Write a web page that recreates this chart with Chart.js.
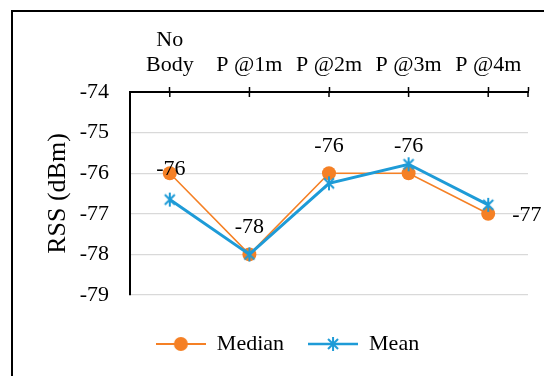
<!DOCTYPE html>
<html>
<head>
<meta charset="utf-8">
<script src="https://cdn.jsdelivr.net/npm/chart.js@4.4.1/dist/chart.umd.min.js"></script>
<style>
  html, body { margin: 0; padding: 0; background: #fff; overflow: hidden; width: 544px; height: 376px; }
  #frame { position: absolute; left: 11px; top: 10px; width: 700px; height: 500px; border: 2px solid #000; box-sizing: border-box; }
  #c { position: absolute; left: 0; top: 0; }
</style>
</head>
<body>
<div id="frame"></div>
<canvas id="c" width="544" height="376"></canvas>
<script>
// ---- data ----
const categoryLabels = [['No', 'Body'], 'P @1m', 'P @2m', 'P @3m', 'P @4m'];
const seriesNames = ['Median', 'Mean'];
const medianValues = [-76, -78, -76, -76, -77];
const meanValues = [-76.65, -78, -76.25, -75.78, -76.78];
const yTickValues = [-79, -78, -77, -76, -75, -74];
const medianLabelPlacement = ['center', 'above', 'above', 'above', 'right'];

// ---- style ----
const FONT = "'Liberation Serif', 'Times New Roman', serif";
const ORANGE = '#F58025';
const BLUE = '#1E9BD7';

function drawAsterisk(g, cx, cy, color) {
  g.strokeStyle = color;
  g.lineWidth = 2;
  g.beginPath();
  g.moveTo(cx, cy - 7); g.lineTo(cx, cy + 7);
  g.moveTo(cx - 5, cy - 5); g.lineTo(cx + 5, cy + 5);
  g.moveTo(cx + 5, cy - 5); g.lineTo(cx - 5, cy + 5);
  g.stroke();
}
function makeStar(color) {
  const c = document.createElement('canvas');
  c.width = 16; c.height = 16;
  drawAsterisk(c.getContext('2d'), 8, 8, color);
  return c;
}
function makeLegendIcon(kind) {
  const c = document.createElement('canvas');
  c.width = 50; c.height = 18;
  const g = c.getContext('2d');
  g.strokeStyle = kind === 'circle' ? ORANGE : BLUE;
  g.lineWidth = kind === 'circle' ? 2 : 2.5;
  g.beginPath(); g.moveTo(0, 9); g.lineTo(50, 9); g.stroke();
  if (kind === 'circle') {
    g.fillStyle = ORANGE;
    g.beginPath(); g.arc(25, 9, 7, 0, Math.PI * 2); g.fill();
  } else {
    drawAsterisk(g, 25, 9, BLUE);
  }
  return c;
}
const starImg = makeStar(BLUE);
const legendIcons = [makeLegendIcon('circle'), makeLegendIcon('star')];

const xy = (vals) => vals.map((v, i) => ({ x: i, y: v }));

const dataLabelPlugin = {
  id: 'dataLabels',
  afterDatasetsDraw(chart) {
    const meta = chart.getDatasetMeta(0);
    const ctx = chart.ctx;
    ctx.save();
    ctx.font = '22px ' + FONT;
    ctx.fillStyle = '#000';
    ctx.textBaseline = 'middle';
    meta.data.forEach((pt, i) => {
      const txt = String(medianValues[i]);
      const pos = medianLabelPlacement[i];
      if (pos === 'above') {
        ctx.textAlign = 'center';
        ctx.fillText(txt, pt.x, pt.y - 27);
      } else if (pos === 'right') {
        ctx.textAlign = 'left';
        ctx.fillText(txt, pt.x + 24, pt.y + 1);
      } else {
        ctx.textAlign = 'center';
        ctx.fillText(txt, pt.x + 1, pt.y - 4);
      }
    });
    ctx.restore();
  }
};

const innerTickPlugin = {
  id: 'innerTicks',
  afterDraw(chart) {
    const s = chart.scales.x;
    const ctx = chart.ctx;
    const top = chart.chartArea.top;
    ctx.save();
    ctx.strokeStyle = '#000';
    ctx.lineWidth = 1.5;
    s.ticks.forEach(t => {
      const px = s.getPixelForValue(t.value);
      ctx.beginPath(); ctx.moveTo(px, top); ctx.lineTo(px, top + 5); ctx.stroke();
    });
    ctx.restore();
  }
};

new Chart(document.getElementById('c'), {
  type: 'line',
  data: {
    datasets: [
      {
        label: seriesNames[0],
        data: xy(medianValues),
        borderColor: ORANGE,
        backgroundColor: ORANGE,
        borderWidth: 1.6,
        pointRadius: 7,
        pointHoverRadius: 7,
        pointBackgroundColor: ORANGE,
        pointBorderWidth: 0,
        pointStyle: 'circle',
        tension: 0,
        order: 1
      },
      {
        label: seriesNames[1],
        data: xy(meanValues),
        borderColor: BLUE,
        backgroundColor: BLUE,
        borderWidth: 3,
        pointStyle: starImg,
        pointRadius: 8,
        tension: 0,
        order: 0
      }
    ]
  },
  options: {
    responsive: false,
    devicePixelRatio: 1,
    animation: false,
    layout: { padding: { left: 47, right: 16, top: 0, bottom: 11 } },
    scales: {
      x: {
        type: 'linear',
        position: 'top',
        min: -0.5,
        max: categoryLabels.length - 0.5,
        afterBuildTicks: (s) => {
          s.ticks = categoryLabels.map((_, i) => ({ value: i }));
          s.ticks.push({ value: categoryLabels.length - 0.5 });
        },
        ticks: {
          callback: (v) => Number.isInteger(v) ? categoryLabels[v] : '',
          font: { family: FONT, size: 22, lineHeight: 1.15 },
          color: '#000',
          padding: 9,
          maxRotation: 0,
          autoSkip: false
        },
        grid: { drawOnChartArea: false, drawTicks: true, tickLength: 5, tickColor: '#000', tickWidth: 1.5 },
        border: { color: '#000', width: 2 },
        afterFit: (s) => { s.height = 92; }
      },
      y: {
        min: yTickValues[0],
        max: yTickValues[yTickValues.length - 1],
        afterBuildTicks: (s) => { s.ticks = yTickValues.map(v => ({ value: v })); },
        ticks: {
          padding: 21,
          font: { family: FONT, size: 22 },
          color: '#000',
          callback: (v) => String(v)
        },
        grid: { color: '#d9d9d9', lineWidth: 1.2, drawTicks: false },
        border: { color: '#000', width: 2 },
        title: {
          display: true,
          text: 'RSS (dBm)',
          color: '#000',
          font: { family: FONT, size: 26, lineHeight: 0.8 },
          padding: { top: 0.6, bottom: 0 }
        },
        afterFit: (s) => { s.width = 83; }
      }
    },
    plugins: {
      tooltip: { enabled: false },
      legend: {
        position: 'bottom',
        title: { display: true, text: '', padding: { top: 2, bottom: 2 }, font: { size: 10, lineHeight: 1 } },
        labels: {
          usePointStyle: true,
          pointStyleWidth: 50,
          padding: 24,
          color: '#000',
          font: { family: FONT, size: 22 },
          sort: (a, b) => a.datasetIndex - b.datasetIndex,
          generateLabels: (chart) => {
            const items = Chart.defaults.plugins.legend.labels.generateLabels(chart);
            items.forEach((it) => { it.pointStyle = legendIcons[it.datasetIndex]; });
            return items;
          }
        }
      }
    }
  },
  plugins: [dataLabelPlugin, innerTickPlugin]
});
</script>
</body>
</html>
